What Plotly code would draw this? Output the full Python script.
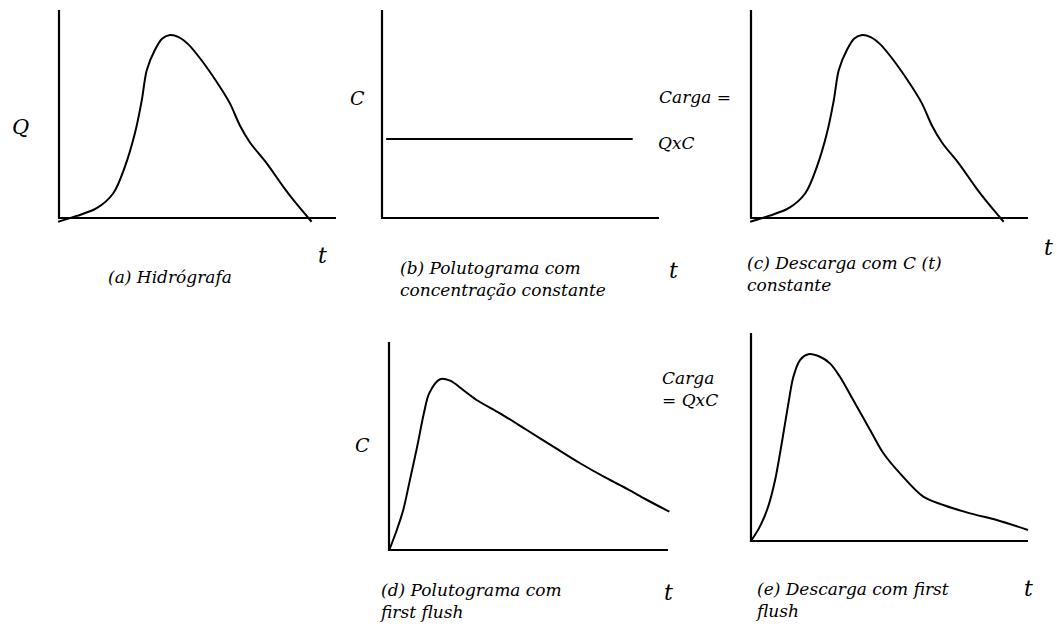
import plotly.graph_objects as go

# ---- data (time and response, in axis units: each axis runs 0..100) ----
t_hidro = [-0.3, 6.4, 13.6, 19.6, 23.8, 27.4, 29.9, 31.7, 34.7, 37.3, 40.1,
           43.2, 46.6, 50.9, 56.9, 61.7, 65.3, 69.0, 75.0, 81.0, 84.6, 91.2]
q_hidro = [-1.8, 1.0, 4.7, 11.9, 24.7, 40.7, 56.7, 71.2, 81.0, 86.3, 88.0,
           87.0, 83.6, 76.8, 65.5, 55.1, 44.5, 36.2, 26.3, 15.0, 8.7, -1.8]

t_const = [1.5, 90.5]
c_const = [38.0, 38.0]

t_ff_conc = [0.1, 2.8, 5.1, 7.5, 10.1, 12.5, 14.4, 18.3, 21.9, 26.6, 31.4,
             39.8, 49.4, 58.9, 68.5, 78.0, 85.5, 92.0, 100.5]
c_ff_conc = [0.0, 9.6, 19.2, 33.7, 49.7, 65.7, 75.3, 82.1, 81.4, 76.9, 72.1,
             65.7, 57.7, 49.7, 41.7, 34.5, 29.3, 24.4, 18.4]

t_ff_load = [0.0, 3.2, 6.2, 8.7, 11.1, 13.5, 15.3, 17.7, 20.7, 24.9, 28.5,
             32.1, 36.9, 43.0, 47.8, 53.8, 62.2, 69.4, 79.1, 88.7, 100.0]
w_ff_load = [0.0, 6.9, 16.5, 29.3, 47.0, 66.2, 79.0, 87.0, 89.8, 88.6, 85.4,
             79.0, 67.8, 53.4, 42.2, 32.5, 21.3, 17.3, 13.3, 10.1, 5.3]

axis_x = [0, 0, 100]
axis_y = [100, 0, 0]

W, H = 1057, 627
FONT = "DejaVu Serif"

# panel frames in pixels: origin (ox, oy), axis lengths (lx, ly)
panels = [
    dict(ox=59, oy=218, lx=277, ly=208),   # (a)
    dict(ox=382, oy=218, lx=277, ly=208),  # (b)
    dict(ox=751, oy=218, lx=277, ly=208),  # (c)
    dict(ox=389, oy=550, lx=279, ly=208),  # (d)
    dict(ox=751, oy=541, lx=277, ly=208),  # (e)
]
series = [
    (t_hidro, q_hidro),
    (t_const, c_const),
    (t_hidro, q_hidro),
    (t_ff_conc, c_ff_conc),
    (t_ff_load, w_ff_load),
]

RLO, RHI = -4, 104

fig = go.Figure()
layout = dict(
    width=W, height=H,
    margin=dict(l=0, r=0, t=0, b=0),
    paper_bgcolor="white", plot_bgcolor="white",
    showlegend=False,
)

for i, (p, (tx, ty)) in enumerate(zip(panels, series), start=1):
    sx, sy = p["lx"] / 100.0, p["ly"] / 100.0
    x0 = (p["ox"] + RLO * sx) / W
    x1 = (p["ox"] + RHI * sx) / W
    yb = 1 - (p["oy"] - RLO * sy) / H
    yt = 1 - (p["oy"] - RHI * sy) / H
    sfx = "" if i == 1 else str(i)
    layout["xaxis" + sfx] = dict(domain=[x0, x1], range=[RLO, RHI],
                                 visible=False, fixedrange=True,
                                 anchor="y" + sfx)
    layout["yaxis" + sfx] = dict(domain=[yb, yt], range=[RLO, RHI],
                                 visible=False, fixedrange=True,
                                 anchor="x" + sfx)
    ref_x, ref_y = "x" + sfx, "y" + sfx
    fig.add_trace(go.Scatter(x=axis_x, y=axis_y, mode="lines",
                             line=dict(color="black", width=2.2),
                             xaxis=ref_x, yaxis=ref_y, hoverinfo="skip"))
    fig.add_trace(go.Scatter(x=tx, y=ty, mode="lines",
                             line=dict(color="black", width=2,
                                       shape="spline", smoothing=0.9),
                             xaxis=ref_x, yaxis=ref_y, hoverinfo="skip"))

fig.update_layout(**layout)


def label(text, px, py, size=17, xanchor="center"):
    fig.add_annotation(
        text=text, x=px / W, y=1 - py / H,
        xref="paper", yref="paper", xanchor=xanchor, yanchor="middle",
        showarrow=False, align="left",
        font=dict(family=FONT, size=size, color="black", style="italic"),
    )


# axis symbols
label("Q", 20, 127, size=21)
label("C", 357, 98, size=19)
label("C", 362, 445, size=19)
for tx_, ty_ in [(322, 255), (673, 270), (1048, 248), (668, 592), (1028, 588)]:
    label("t", tx_, ty_, size=22)

# load definitions
label("Carga =", 657, 97, size=17, xanchor="left")
label("QxC", 656, 143, size=17, xanchor="left")
label("Carga<br>= QxC", 660, 389, size=17, xanchor="left")

# captions
label("(a) Hidrógrafa", 170, 277, size=17)
label("(b) Polutograma com<br>concentração constante", 398, 279, size=17,
      xanchor="left")
label("(c) Descarga com C (t)<br>constante", 745, 274, size=17, xanchor="left")
label("(d) Polutograma com<br>first flush", 377, 601, size=17, xanchor="left")
label("(e) Descarga com first<br>flush", 753, 600, size=17, xanchor="left")

fig.write_html("out.html")
